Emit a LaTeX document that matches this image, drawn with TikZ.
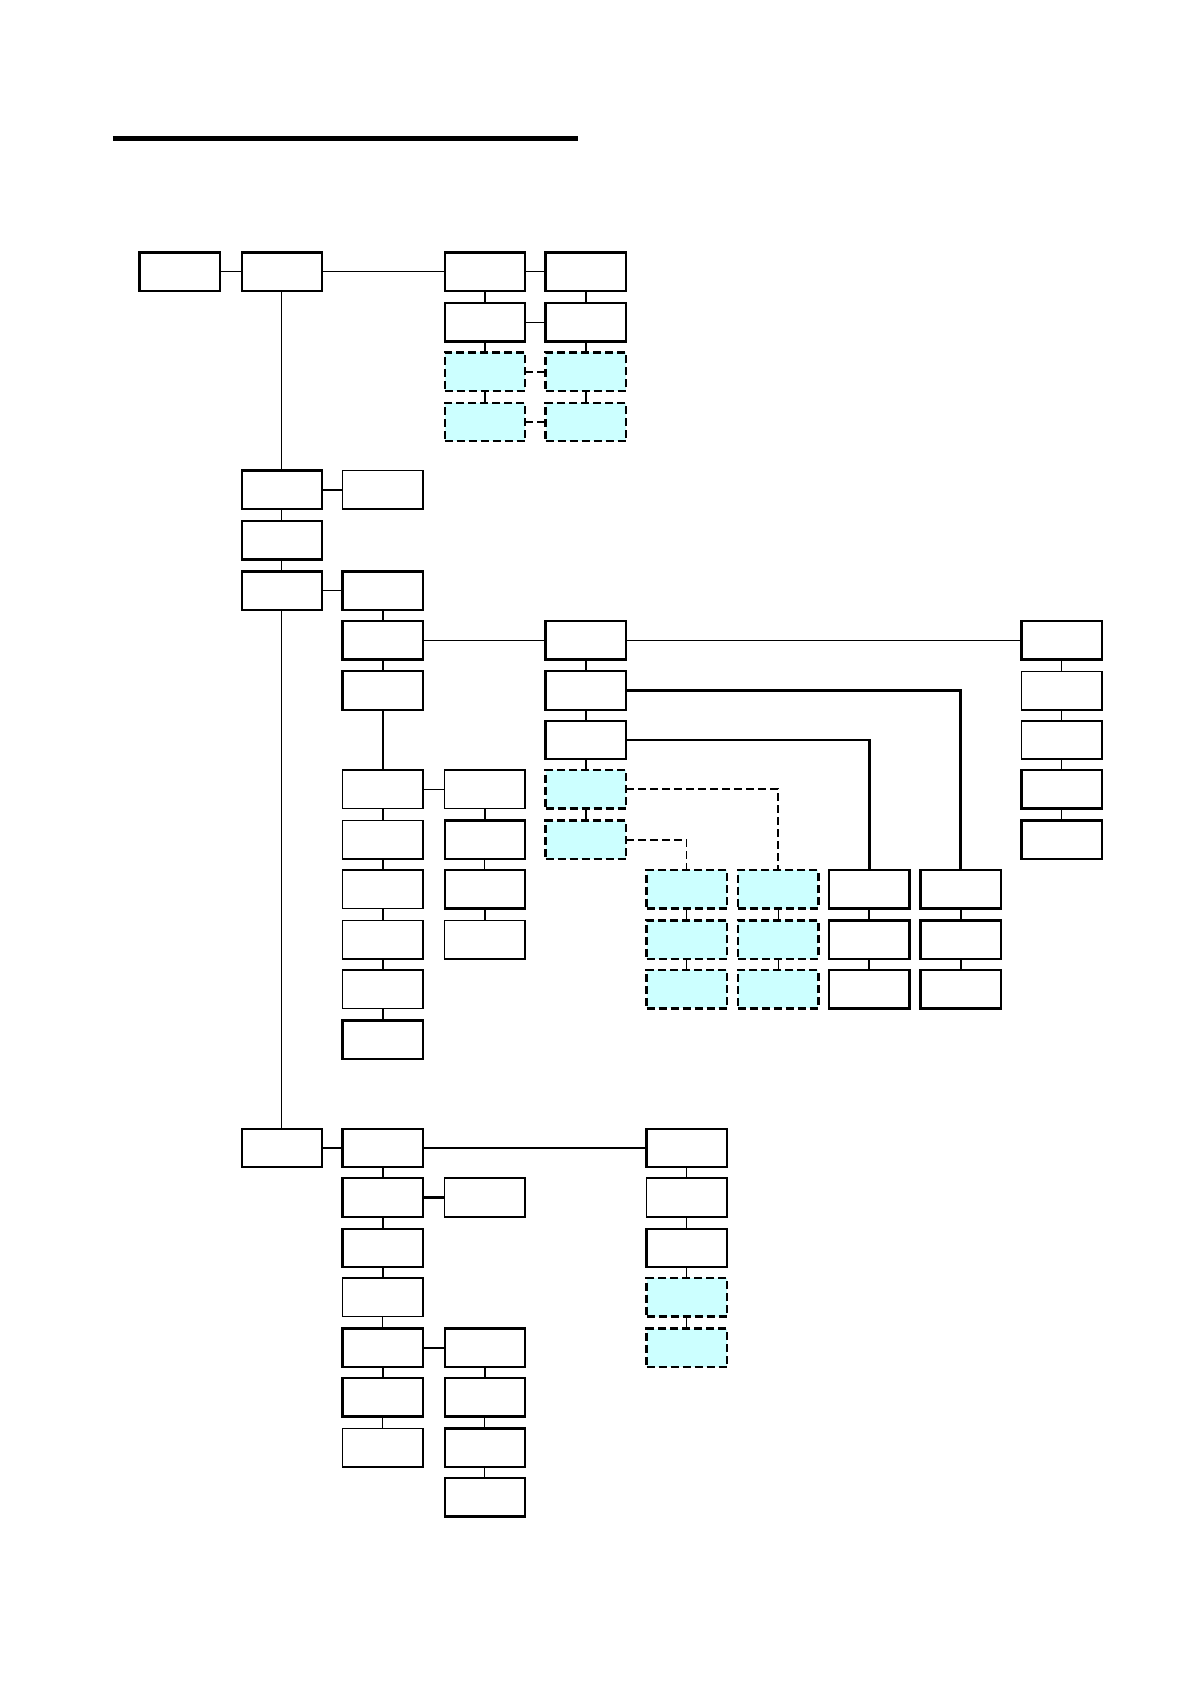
\documentclass[tikz,border=0pt]{standalone}
\usetikzlibrary{calc}
\definecolor{cyanfill}{HTML}{CCFFFF}
\tikzset{
  box/.style={draw=black, line width=2.3pt, fill=white, minimum width=80.5pt, minimum height=38.5pt, inner sep=0pt, outer sep=0pt},
  thinbox/.style={box, line width=1.6pt},
  cbox/.style={box, fill=cyanfill, dash pattern=on 8pt off 4pt},
  conn/.style={line width=1.1pt},
  mconn/.style={line width=1.8pt},
  tconn/.style={line width=2.4pt},
  dconn/.style={line width=1.9pt, dash pattern=on 8pt off 4pt},
  dtconn/.style={line width=1.3pt, dash pattern=on 8pt off 4pt},
}
\newcommand{\B}[4][box]{\node[#1] (#2) at ({#3+37.5},{#4+18}) {};}
\begin{document}
\begin{tikzpicture}[x=1.07401pt, y=-1.07401pt]
\useasboundingbox (0,0) rectangle (1108,1568);
% title bar
\draw[line width=5.5pt] (105,129) -- (538,129);
% ---------- top group ----------
\B{T0c0}{130}{235} \B{T0c1}{225}{235} \B{T0c3}{414}{235} \B{T0c4}{508}{235}
\B{T1c3}{414}{282} \B{T1c4}{508}{282}
\B[cbox]{T2c3}{414}{328} \B[cbox]{T2c4}{508}{328}
\B[cbox]{T3c3}{414}{375} \B[cbox]{T3c4}{508}{375}
% ---------- middle group ----------
\B{M0c1}{225}{438} \B[thinbox]{M0c2}{319}{438}
\B{M1c1}{225}{485}
\B{M2c1}{225}{532} \B{M2c2}{319}{532}
\B{M3c2}{319}{578} \B{M3c4}{508}{578} \B{M3c9}{951}{578}
\B{M4c2}{319}{625} \B{M4c4}{508}{625} \B[thinbox]{M4c9}{951}{625}
\B{M5c4}{508}{671} \B[thinbox]{M5c9}{951}{671}
\B[thinbox]{M6c2}{319}{717} \B[thinbox]{M6c3}{414}{717} \B[cbox]{M6c4}{508}{717} \B{M6c9}{951}{717}
\B[thinbox]{M7c2}{319}{764} \B{M7c3}{414}{764} \B[cbox]{M7c4}{508}{764} \B{M7c9}{951}{764}
\B[thinbox]{M8c2}{319}{810} \B{M8c3}{414}{810} \B[cbox]{M8c5}{602}{810} \B[cbox]{M8c6}{687}{810} \B{M8c7}{772}{810} \B{M8c8}{857}{810}
\B[thinbox]{M9c2}{319}{857} \B[thinbox]{M9c3}{414}{857} \B[cbox]{M9c5}{602}{857} \B[cbox]{M9c6}{687}{857} \B{M9c7}{772}{857} \B{M9c8}{857}{857}
\B[thinbox]{M10c2}{319}{903} \B[cbox]{M10c5}{602}{903} \B[cbox]{M10c6}{687}{903} \B{M10c7}{772}{903} \B{M10c8}{857}{903}
\B{M11c2}{319}{950}
% ---------- bottom group ----------
\B{B0c1}{225}{1051} \B{B0c2}{319}{1051} \B{B0c5}{602}{1051}
\B{B1c2}{319}{1097} \B[thinbox]{B1c3}{414}{1097} \B[thinbox]{B1c5}{602}{1097}
\B{B2c2}{319}{1144} \B{B2c5}{602}{1144}
\B[thinbox]{B3c2}{319}{1190} \B[cbox]{B3c5}{602}{1190}
\B{B4c2}{319}{1237} \B{B4c3}{414}{1237} \B[cbox]{B4c5}{602}{1237}
\B{B5c2}{319}{1283} \B{B5c3}{414}{1283}
\B[thinbox]{B6c2}{319}{1330} \B{B6c3}{414}{1330}
\B{B7c3}{414}{1376}
% ---------- connectors: top ----------
\draw[conn] (T0c0.east) -- (T0c1.west);
\draw[conn] (T0c1.east) -- (T0c3.west);
\draw[conn] (T0c3.east) -- (T0c4.west);
\draw[conn] (T1c3.east) -- (T1c4.west);
\draw[dconn] (T2c3.east) -- (T2c4.west);
\draw[dconn] (T3c3.east) -- (T3c4.west);
\draw[mconn] (T0c3.south) -- (T1c3.north);
\draw[mconn] (T0c4.south) -- (T1c4.north);
\draw[mconn] (T1c3.south) -- (T2c3.north);
\draw[mconn] (T1c4.south) -- (T2c4.north);
\draw[mconn] (T2c3.south) -- (T3c3.north);
\draw[mconn] (T2c4.south) -- (T3c4.north);
\draw[conn] (T0c1.south) -- (M0c1.north);
% ---------- connectors: middle ----------
\draw[tconn] (M0c1.east) -- (M0c2.west);
\draw[conn] (M0c1.south) -- (M1c1.north);
\draw[conn] (M1c1.south) -- (M2c1.north);
\draw[conn] (M2c1.east) -- (M2c2.west);
\draw[conn] (M2c1.south) -- (B0c1.north);
\draw[tconn] (M2c2.south) -- (M3c2.north);
\draw[tconn] (M3c2.south) -- (M4c2.north);
\draw[tconn] (M4c2.south) -- (M6c2.north);
\draw[conn] (M3c2.east) -- (M3c4.west);
\draw[conn] (M3c4.east) -- (M3c9.west);
\draw[mconn] (M3c4.south) -- (M4c4.north);
\draw[mconn] (M4c4.south) -- (M5c4.north);
\draw[mconn] (M5c4.south) -- (M6c4.north);
\draw[mconn] (M6c4.south) -- (M7c4.north);
\draw[tconn] (M4c4.east) -| (M8c8.north);
\draw[tconn] (M5c4.east) -| (M8c7.north);
\draw[dconn] (M6c4.east) -| (M8c6.north);
\draw[dtconn] (M7c4.east) -| (M8c5.north);
\draw[conn] (M6c2.east) -- (M6c3.west);
\draw[mconn] (M6c2.south) -- (M7c2.north);
\draw[mconn] (M7c2.south) -- (M8c2.north);
\draw[mconn] (M8c2.south) -- (M9c2.north);
\draw[mconn] (M9c2.south) -- (M10c2.north);
\draw[mconn] (M10c2.south) -- (M11c2.north);
\draw[mconn] (M6c3.south) -- (M7c3.north);
\draw[conn] (M7c3.south) -- (M8c3.north);
\draw[mconn] (M8c3.south) -- (M9c3.north);
\draw[conn] (M8c5.south) -- (M9c5.north);
\draw[conn] (M9c5.south) -- (M10c5.north);
\draw[conn] (M8c6.south) -- (M9c6.north);
\draw[conn] (M9c6.south) -- (M10c6.north);
\draw[mconn] (M8c7.south) -- (M9c7.north);
\draw[mconn] (M9c7.south) -- (M10c7.north);
\draw[mconn] (M8c8.south) -- (M9c8.north);
\draw[mconn] (M9c8.south) -- (M10c8.north);
\draw[conn] (M3c9.south) -- (M4c9.north);
\draw[conn] (M4c9.south) -- (M5c9.north);
\draw[conn] (M5c9.south) -- (M6c9.north);
\draw[conn] (M6c9.south) -- (M7c9.north);
% ---------- connectors: bottom ----------
\draw[tconn] (B0c1.east) -- (B0c2.west);
\draw[tconn] (B0c2.east) -- (B0c5.west);
\draw[mconn] (B0c2.south) -- (B1c2.north);
\draw[mconn] (B1c2.south) -- (B2c2.north);
\draw[mconn] (B2c2.south) -- (B3c2.north);
\draw[conn] (B3c2.south) -- (B4c2.north);
\draw[mconn] (B4c2.south) -- (B5c2.north);
\draw[conn] (B5c2.south) -- (B6c2.north);
\draw[tconn] (B1c2.east) -- (B1c3.west);
\draw[tconn] (B4c2.east) -- (B4c3.west);
\draw[mconn] (B4c3.south) -- (B5c3.north);
\draw[conn] (B5c3.south) -- (B6c3.north);
\draw[conn] (B6c3.south) -- (B7c3.north);
\draw[conn] (B0c5.south) -- (B1c5.north);
\draw[conn] (B1c5.south) -- (B2c5.north);
\draw[conn] (B2c5.south) -- (B3c5.north);
\draw[conn] (B3c5.south) -- (B4c5.north);
\end{tikzpicture}
\end{document}
